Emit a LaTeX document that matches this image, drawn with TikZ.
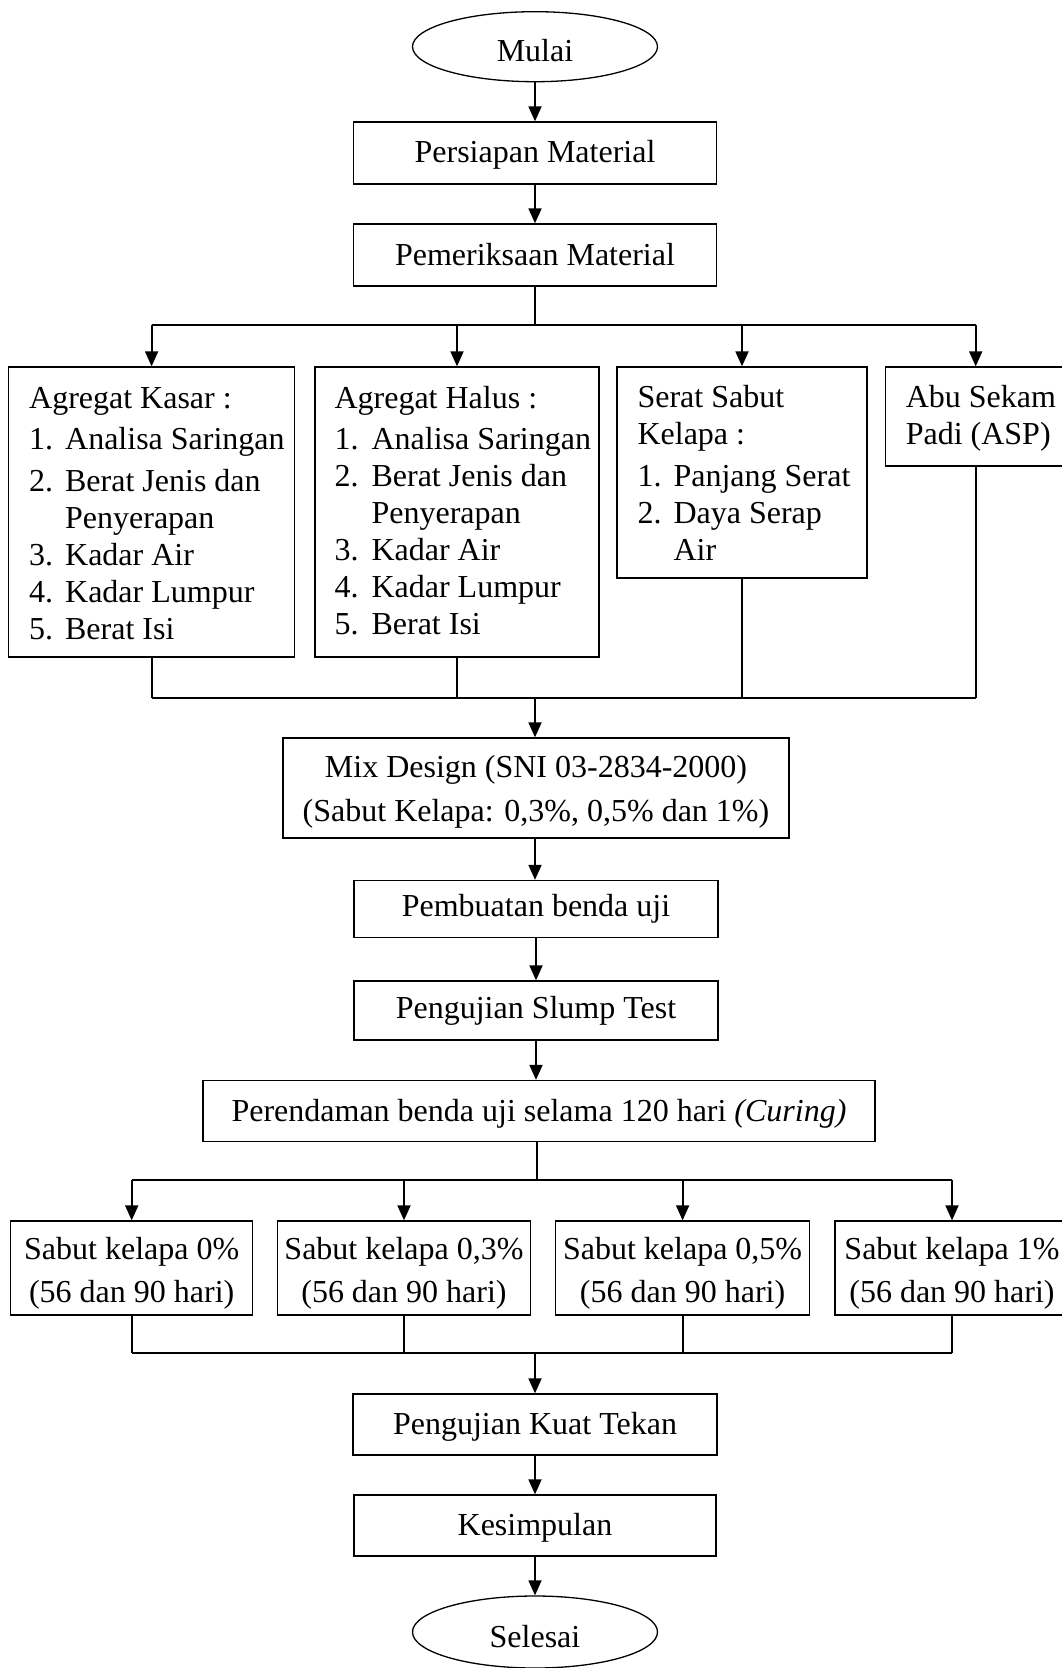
\documentclass[tikz,border=0pt]{standalone}
\usepackage{fontspec}
\setmainfont{Liberation Serif}
\usetikzlibrary{arrows.meta,shapes.geometric}
\begin{document}
\begin{tikzpicture}[x=1pt,y=-1pt,
  font=\fontsize{32}{37}\selectfont,
  box/.style={draw, line width=1.3pt, inner sep=0pt, align=center},
  oval/.style={draw, ellipse, line width=1.3pt, inner sep=0pt, minimum width=245pt, minimum height=70pt, text height=30pt, text depth=0pt},
  conn/.style={line width=1.8pt},
  arr/.style={line width=1.8pt, -{Triangle[length=15pt,width=13pt]}},
  lbl/.style={anchor=west, inner sep=0pt, align=left}
]
\useasboundingbox (0,0) rectangle (1062,1668);

% main column top
\node[oval] (mulai) at (535,46.7) {Mulai};
\node[box, minimum width=363pt, minimum height=62pt, text height=25pt, text depth=7pt] (persiapan) at (535,153) {Persiapan Material};
\node[box, minimum width=363pt, minimum height=62pt] (periksa) at (535,255) {Pemeriksaan Material};
\draw[arr] (mulai.south) -- (persiapan.north);
\draw[arr] (persiapan.south) -- (periksa.north);

% material boxes
\node[box, minimum width=286pt, minimum height=290pt] (kasar) at (151.6,512) {};
\node[box, minimum width=284pt, minimum height=290pt] (halus) at (457,512) {};
\node[box, minimum width=250pt, minimum height=211pt] (serat) at (742,472.5) {};
\node[box, minimum width=181pt, minimum height=99pt] (abu) at (975.7,416.5) {};

\node[lbl] (kasarT) at ([xshift=21pt,yshift=-2pt]kasar.west) {Agregat Kasar :\\[4pt]
  \makebox[36pt][l]{1.}Analisa Saringan\\[5pt]
  \makebox[36pt][l]{2.}Berat Jenis dan\\
  \hspace*{36pt}Penyerapan\\
  \makebox[36pt][l]{3.}Kadar Air\\
  \makebox[36pt][l]{4.}Kadar Lumpur\\
  \makebox[36pt][l]{5.}Berat Isi};
\node[lbl] (halusT) at ([xshift=20pt,yshift=1pt]halus.west) {Agregat Halus :\\[4pt]
  \makebox[37pt][l]{1.}Analisa Saringan\\
  \makebox[37pt][l]{2.}Berat Jenis dan\\
  \hspace*{37pt}Penyerapan\\
  \makebox[37pt][l]{3.}Kadar Air\\
  \makebox[37pt][l]{4.}Kadar Lumpur\\
  \makebox[37pt][l]{5.}Berat Isi};
\node[lbl] (seratT) at ([xshift=21pt]serat.west) {Serat Sabut\\
  Kelapa :\\[5pt]
  \makebox[36pt][l]{1.}Panjang Serat\\
  \makebox[36pt][l]{2.}Daya Serap\\
  \hspace*{36pt}Air};
\node[lbl] (abuT) at ([xshift=21pt,yshift=-2pt]abu.west) {Abu Sekam\\Padi (ASP)};

\coordinate (br1) at (535,325);
\draw[conn] (periksa.south) -- (br1);
\draw[conn] (kasar.north |- br1) -- (abu.north |- br1);
\draw[arr] (kasar.north |- br1) -- (kasar.north);
\draw[arr] (halus.north |- br1) -- (halus.north);
\draw[arr] (serat.north |- br1) -- (serat.north);
\draw[arr] (abu.north |- br1) -- (abu.north);

\coordinate (j1) at (535,698);
\draw[conn] (kasar.south) -- (kasar.south |- j1);
\draw[conn] (halus.south) -- (halus.south |- j1);
\draw[conn] (serat.south) -- (serat.south |- j1);
\draw[conn] (abu.south) -- (abu.south |- j1);
\draw[conn] (kasar.south |- j1) -- (abu.south |- j1);

% middle column
\node[box, minimum width=506pt, minimum height=100pt] (mix) at (536,788)
  {\rule{0pt}{30pt}Mix Design (SNI 03-2834-2000)\\[7pt](Sabut Kelapa: 0,3\%, 0,5\% dan 1\%)};
\draw[arr] (j1) -- (j1 |- mix.north);
\node[box, minimum width=364pt, minimum height=57pt] (buat) at (536,909) {Pembuatan benda uji};
\node[box, minimum width=364pt, minimum height=59pt] (slump) at (536,1010.5) {Pengujian Slump Test};
\node[box, minimum width=672pt, minimum height=61pt, text height=28pt, text depth=7pt] (rendam) at (539,1111)
  {Perendaman benda uji selama 120 hari \textit{(Curing)}};
\draw[arr] (mix.south -| j1) -- (j1 |- buat.north);
\draw[arr] (buat.south) -- (slump.north);
\draw[arr] (slump.south) -- (slump.south |- rendam.north);

% sample boxes
\tikzset{sbox/.style={box, minimum height=94pt}}
\node[sbox, minimum width=242pt] (s1) at (131.7,1268) {\rule{0pt}{32pt}Sabut kelapa 0\%\\[6pt](56 dan 90 hari)};
\node[sbox, minimum width=253pt] (s2) at (404,1268) {\rule{0pt}{32pt}Sabut kelapa 0,3\%\\[6pt](56 dan 90 hari)};
\node[sbox, minimum width=254pt] (s3) at (682.6,1268) {\rule{0pt}{32pt}Sabut kelapa 0,5\%\\[6pt](56 dan 90 hari)};
\node[sbox, minimum width=234pt] (s4) at (952,1268) {\rule{0pt}{32pt}Sabut kelapa 1\%\\[6pt](56 dan 90 hari)};

\coordinate (br2) at (537,1180);
\draw[conn] (rendam.south -| br2) -- (br2);
\draw[conn] (s1.north |- br2) -- (s4.north |- br2);
\draw[arr] (s1.north |- br2) -- (s1.north);
\draw[arr] (s2.north |- br2) -- (s2.north);
\draw[arr] (s3.north |- br2) -- (s3.north);
\draw[arr] (s4.north |- br2) -- (s4.north);

\coordinate (j2) at (535,1352.7);
\draw[conn] (s1.south) -- (s1.south |- j2);
\draw[conn] (s2.south) -- (s2.south |- j2);
\draw[conn] (s3.south) -- (s3.south |- j2);
\draw[conn] (s4.south) -- (s4.south |- j2);
\draw[conn] (s1.south |- j2) -- (s4.south |- j2);

% bottom column
\node[box, minimum width=364pt, minimum height=61pt, text height=26pt, text depth=7pt] (kuat) at (535,1424.5) {Pengujian Kuat Tekan};
\node[box, minimum width=362pt, minimum height=61pt, text height=26pt, text depth=7pt] (simpul) at (535,1525.5) {Kesimpulan};
\node[oval, minimum height=72pt] (selesai) at (535,1632) {Selesai};
\draw[arr] (j2) -- (kuat.north);
\draw[arr] (kuat.south) -- (simpul.north);
\draw[arr] (simpul.south) -- (selesai.north);
\end{tikzpicture}
\end{document}
